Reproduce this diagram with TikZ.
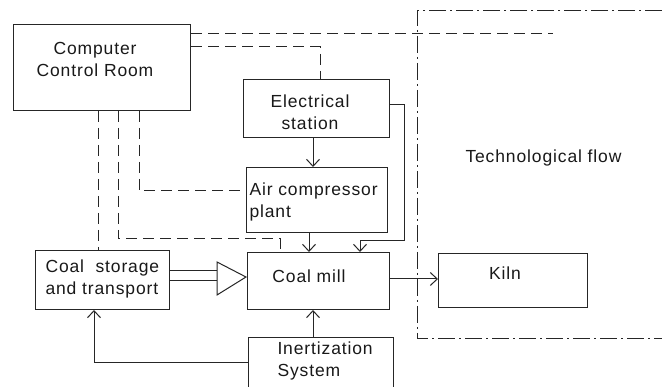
\documentclass[tikz,border=0pt]{standalone}
\usepackage{fontspec}
\setmainfont{Liberation Sans}[LetterSpace=5]
\usetikzlibrary{arrows.meta}
\begin{document}
\begin{tikzpicture}[x=1pt,y=-1pt, line width=1pt, draw=black!85,
  box/.style={draw, rectangle, inner sep=0pt, anchor=north west},
  txt/.style={inner sep=0pt, text=black!90, font=\fontsize{17.5}{22}\selectfont},
  dsh/.style={dash pattern=on 11pt off 6pt},
  arr/.style={-{Straight Barb[length=7pt,width=13pt]}},
  bnd/.style={dash pattern=on 17pt off 4pt on 2pt off 4pt}]
\clip (0,0) rectangle (662,387);
\fill[white] (0,0) rectangle (662,387);

% boxes
\node[box, minimum width=177pt, minimum height=86pt] (ccr) at (13,24) {};
\node[box, minimum width=146pt, minimum height=58pt] (el) at (243,79) {};
\node[box, minimum width=141pt, minimum height=65pt] (air) at (246,167) {};
\node[box, minimum width=134pt, minimum height=59pt] (cs) at (35,250) {};
\node[box, minimum width=142pt, minimum height=57pt] (mill) at (247,252) {};
\node[box, minimum width=149pt, minimum height=54pt] (kiln) at (438,253) {};
\node[box, minimum width=145pt, minimum height=70pt] (inert) at (248,337) {};

% texts
\node[txt, align=center] (tccr) at (95,59) {Computer\\Control Room};
\node[txt, align=center] (tel) at (310,112) {Electrical\\station};
\node[txt, align=left, anchor=west] (tair) at (249,202) {Air compressor\\plant};
\node[txt, align=left, anchor=west] (tcs) at (45,279) {Coal\ \ storage\\and transport};
\node[txt, anchor=base] (tmill) at (309,283) {Coal mill};
\node[txt, anchor=base] (tkiln) at (505,280) {Kiln};
\node[txt, align=left, anchor=west] (tinert) at (277,361) {Inertization\\System};
\node[txt, anchor=base west] (ttech) at (465,163) {Technological flow};

% helper coordinates
\coordinate (d1) at (553,34);
\coordinate (d2) at (320,47);
\coordinate (x313) at (313,0);
\coordinate (x309) at (309,0);
\coordinate (e1) at (404,105);
\coordinate (e2) at (404,241);
\coordinate (e3) at (360,241);
\coordinate (c3) at (139,191);
\coordinate (c2) at (118,239);
\coordinate (c2b) at (280,239);
\coordinate (x98) at (98,0);
\coordinate (y271) at (0,271);
\coordinate (y281) at (0,281);
\coordinate (t1) at (217,262);
\coordinate (t2) at (217,295);
\coordinate (t3) at (246,277);
\coordinate (y279) at (0,279);
\coordinate (i1) at (94,363);
\coordinate (b1) at (662,11);
\coordinate (b2) at (417,11);
\coordinate (b3) at (417,339);
\coordinate (b4) at (662,339);

% dashed control lines
\draw[dsh] (ccr.east |- d1) -- (d1);
\draw[dsh] (ccr.east |- d2) -- (d2) -- (el.north -| d2);
\draw[dsh] (ccr.south -| c3) -- (c3) -- (air.west |- c3);
\draw[dsh] (ccr.south -| c2) -- (c2) -- (c2b) -- (mill.north -| c2b);
\draw[dsh] (ccr.south -| x98) -- (cs.north -| x98);

% solid flows
\draw[arr] (el.south -| x313) -- (air.north -| x313);
\draw[arr] (air.south -| x309) -- (mill.north -| x309);
\draw[arr] (el.east |- e1) -- (e1) -- (e2) -- (e3) -- (mill.north -| e3);
\draw (cs.east |- y271) -- (t1 |- y271);
\draw (cs.east |- y281) -- (t1 |- y281);
\draw (t1) -- (t2) -- (t3) -- cycle;
\draw[arr] (mill.east |- y279) -- (kiln.west |- y279);
\draw[arr] (inert.north -| x313) -- (mill.south -| x313);
\draw[arr] (inert.west |- i1) -- (i1) -- (cs.south -| i1);

% technological boundary
\draw[bnd] (b1) -- (b2) -- (b3) -- (b4);
\end{tikzpicture}
\end{document}
